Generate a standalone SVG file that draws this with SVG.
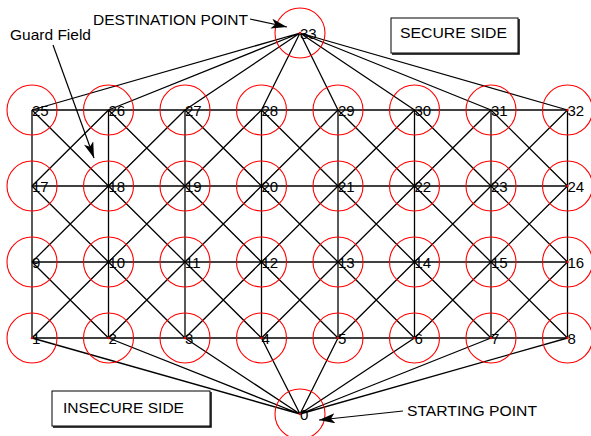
<svg xmlns="http://www.w3.org/2000/svg" width="591" height="436" viewBox="0 0 591 436">
<style>
  .e{stroke:#000;stroke-width:1.3;fill:none}
  .c{stroke:#f00;stroke-width:1.1;fill:none}
  .d{fill:#e00}
  .t{font-family:"Liberation Sans",Arial,sans-serif;font-size:15px;fill:#000}
  .a{stroke:#000;stroke-width:1.2;fill:none}
  .b{stroke:#000;stroke-width:1;fill:#fff}
</style>
<defs>
  <marker id="ah" viewBox="0 0 16 10" refX="16" refY="5" markerWidth="16" markerHeight="10" markerUnits="userSpaceOnUse" orient="auto">
    <path d="M0,0 L16,5 L0,10 L4,5 Z" fill="#000"/>
  </marker>
</defs>
<rect width="591" height="436" fill="#fff"/>
<g id="connectors">
  <line class="e" x1="32" y1="110" x2="567.5" y2="110"/>
  <line class="e" x1="32" y1="186" x2="567.5" y2="186"/>
  <line class="e" x1="32" y1="262" x2="567.5" y2="262"/>
  <line class="e" x1="32" y1="338" x2="567.5" y2="338"/>
  <line class="e" x1="32" y1="110" x2="32" y2="338"/>
  <line class="e" x1="108.5" y1="110" x2="108.5" y2="338"/>
  <line class="e" x1="185" y1="110" x2="185" y2="338"/>
  <line class="e" x1="261.5" y1="110" x2="261.5" y2="338"/>
  <line class="e" x1="338" y1="110" x2="338" y2="338"/>
  <line class="e" x1="414.5" y1="110" x2="414.5" y2="338"/>
  <line class="e" x1="491" y1="110" x2="491" y2="338"/>
  <line class="e" x1="567.5" y1="110" x2="567.5" y2="338"/>
  <path class="e" d="M32,110 L108.5,186 M108.5,110 L32,186 M108.5,110 L185,186 M185,110 L108.5,186 M185,110 L261.5,186 M261.5,110 L185,186 M261.5,110 L338,186 M338,110 L261.5,186 M338,110 L414.5,186 M414.5,110 L338,186 M414.5,110 L491,186 M491,110 L414.5,186 M491,110 L567.5,186 M567.5,110 L491,186"/>
  <path class="e" d="M32,186 L108.5,262 M108.5,186 L32,262 M108.5,186 L185,262 M185,186 L108.5,262 M185,186 L261.5,262 M261.5,186 L185,262 M261.5,186 L338,262 M338,186 L261.5,262 M338,186 L414.5,262 M414.5,186 L338,262 M414.5,186 L491,262 M491,186 L414.5,262 M491,186 L567.5,262 M567.5,186 L491,262"/>
  <path class="e" d="M32,262 L108.5,338 M108.5,262 L32,338 M108.5,262 L185,338 M185,262 L108.5,338 M185,262 L261.5,338 M261.5,262 L185,338 M261.5,262 L338,338 M338,262 L261.5,338 M338,262 L414.5,338 M414.5,262 L338,338 M414.5,262 L491,338 M491,262 L414.5,338 M491,262 L567.5,338 M567.5,262 L491,338"/>
  <path class="e" d="M300,33 L32,110 M300,33 L108.5,110 M300,33 L185,110 M300,33 L261.5,110 M300,33 L338,110 M300,33 L414.5,110 M300,33 L491,110 M300,33 L567.5,110"/>
  <path class="e" d="M300,414 L32,338 M300,414 L108.5,338 M300,414 L185,338 M300,414 L261.5,338 M300,414 L338,338 M300,414 L414.5,338 M300,414 L491,338 M300,414 L567.5,338"/>
</g>
<g id="node-0"><circle class="c" cx="300" cy="414" r="25"/><circle class="d" cx="300" cy="414" r="1.2"/><text class="t" x="300" y="420">0</text></g>
<g id="node-1"><circle class="c" cx="32" cy="338" r="25"/><circle class="d" cx="32" cy="338" r="1.2"/><text class="t" x="32" y="344">1</text></g>
<g id="node-2"><circle class="c" cx="108.5" cy="338" r="25"/><circle class="d" cx="108.5" cy="338" r="1.2"/><text class="t" x="108.5" y="344">2</text></g>
<g id="node-3"><circle class="c" cx="185" cy="338" r="25"/><circle class="d" cx="185" cy="338" r="1.2"/><text class="t" x="185" y="344">3</text></g>
<g id="node-4"><circle class="c" cx="261.5" cy="338" r="25"/><circle class="d" cx="261.5" cy="338" r="1.2"/><text class="t" x="261.5" y="344">4</text></g>
<g id="node-5"><circle class="c" cx="338" cy="338" r="25"/><circle class="d" cx="338" cy="338" r="1.2"/><text class="t" x="338" y="344">5</text></g>
<g id="node-6"><circle class="c" cx="414.5" cy="338" r="25"/><circle class="d" cx="414.5" cy="338" r="1.2"/><text class="t" x="414.5" y="344">6</text></g>
<g id="node-7"><circle class="c" cx="491" cy="338" r="25"/><circle class="d" cx="491" cy="338" r="1.2"/><text class="t" x="491" y="344">7</text></g>
<g id="node-8"><circle class="c" cx="567.5" cy="338" r="25"/><circle class="d" cx="567.5" cy="338" r="1.2"/><text class="t" x="567.5" y="344">8</text></g>
<g id="node-9"><circle class="c" cx="32" cy="262" r="25"/><text class="t" x="32" y="268">9</text></g>
<g id="node-10"><circle class="c" cx="108.5" cy="262" r="25"/><text class="t" x="108.5" y="268">10</text></g>
<g id="node-11"><circle class="c" cx="185" cy="262" r="25"/><text class="t" x="185" y="268">11</text></g>
<g id="node-12"><circle class="c" cx="261.5" cy="262" r="25"/><text class="t" x="261.5" y="268">12</text></g>
<g id="node-13"><circle class="c" cx="338" cy="262" r="25"/><text class="t" x="338" y="268">13</text></g>
<g id="node-14"><circle class="c" cx="414.5" cy="262" r="25"/><text class="t" x="414.5" y="268">14</text></g>
<g id="node-15"><circle class="c" cx="491" cy="262" r="25"/><text class="t" x="491" y="268">15</text></g>
<g id="node-16"><circle class="c" cx="567.5" cy="262" r="25"/><circle class="d" cx="567.5" cy="262" r="1.2"/><text class="t" x="567.5" y="268">16</text></g>
<g id="node-17"><circle class="c" cx="32" cy="186" r="25"/><text class="t" x="32" y="192">17</text></g>
<g id="node-18"><circle class="c" cx="108.5" cy="186" r="25"/><text class="t" x="108.5" y="192">18</text></g>
<g id="node-19"><circle class="c" cx="185" cy="186" r="25"/><text class="t" x="185" y="192">19</text></g>
<g id="node-20"><circle class="c" cx="261.5" cy="186" r="25"/><text class="t" x="261.5" y="192">20</text></g>
<g id="node-21"><circle class="c" cx="338" cy="186" r="25"/><text class="t" x="338" y="192">21</text></g>
<g id="node-22"><circle class="c" cx="414.5" cy="186" r="25"/><text class="t" x="414.5" y="192">22</text></g>
<g id="node-23"><circle class="c" cx="491" cy="186" r="25"/><text class="t" x="491" y="192">23</text></g>
<g id="node-24"><circle class="c" cx="567.5" cy="186" r="25"/><circle class="d" cx="567.5" cy="186" r="1.2"/><text class="t" x="567.5" y="192">24</text></g>
<g id="node-25"><circle class="c" cx="32" cy="110" r="25"/><text class="t" x="32" y="116">25</text></g>
<g id="node-26"><circle class="c" cx="108.5" cy="110" r="25"/><text class="t" x="108.5" y="116">26</text></g>
<g id="node-27"><circle class="c" cx="185" cy="110" r="25"/><text class="t" x="185" y="116">27</text></g>
<g id="node-28"><circle class="c" cx="261.5" cy="110" r="25"/><text class="t" x="261.5" y="116">28</text></g>
<g id="node-29"><circle class="c" cx="338" cy="110" r="25"/><text class="t" x="338" y="116">29</text></g>
<g id="node-30"><circle class="c" cx="414.5" cy="110" r="25"/><text class="t" x="414.5" y="116">30</text></g>
<g id="node-31"><circle class="c" cx="491" cy="110" r="25"/><text class="t" x="491" y="116">31</text></g>
<g id="node-32"><circle class="c" cx="567.5" cy="110" r="25"/><circle class="d" cx="567.5" cy="110" r="1.2"/><text class="t" x="567.5" y="116">32</text></g>
<g id="node-33"><circle class="c" cx="300" cy="33" r="25"/><circle class="d" cx="300" cy="33" r="1.2"/><text class="t" x="300" y="39">33</text></g>
<g id="label-destination">
  <text class="t" x="93" y="25" textLength="155" lengthAdjust="spacingAndGlyphs">DESTINATION POINT</text>
  <line class="a" x1="250" y1="19" x2="287" y2="27" marker-end="url(#ah)"/>
</g>
<g id="label-guard">
  <text class="t" x="10" y="40" textLength="81" lengthAdjust="spacingAndGlyphs">Guard Field</text>
  <line class="a" x1="53" y1="45" x2="94" y2="158" marker-end="url(#ah)"/>
</g>
<g id="label-starting">
  <text class="t" x="407" y="416" textLength="130" lengthAdjust="spacingAndGlyphs">STARTING POINT</text>
  <line class="a" x1="403" y1="411" x2="319" y2="420" marker-end="url(#ah)"/>
</g>
<g id="secure-side">
  <rect class="b" x="391" y="18" width="127" height="35"/>
  <polyline points="519,19 519,54 392,54" stroke="#000" stroke-width="1.5" fill="none"/>
  <text class="t" x="400" y="38" textLength="107" lengthAdjust="spacingAndGlyphs">SECURE SIDE</text>
</g>
<g id="insecure-side">
  <rect class="b" x="52" y="391" width="158" height="35"/>
  <polyline points="211,392 211,427 53,427" stroke="#000" stroke-width="1.5" fill="none"/>
  <text class="t" x="63" y="413" textLength="121" lengthAdjust="spacingAndGlyphs">INSECURE SIDE</text>
</g>
</svg>
